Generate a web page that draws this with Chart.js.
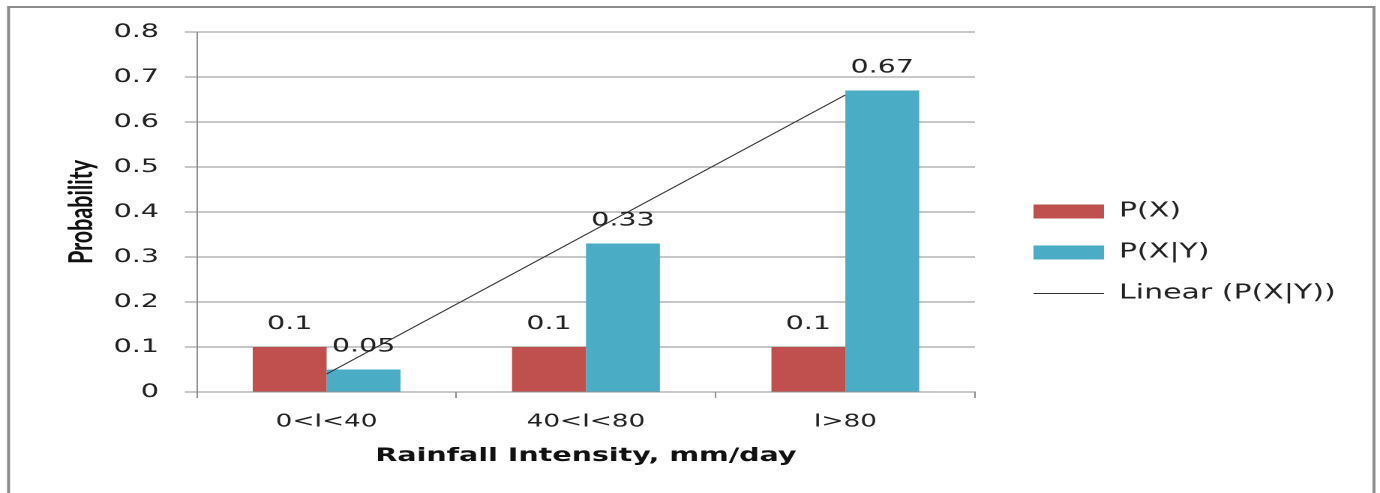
<!DOCTYPE html>
<html><head><meta charset="utf-8">
<script src="https://cdn.jsdelivr.net/npm/chart.js@4.4.1/dist/chart.umd.min.js"></script>
<style>
html,body{margin:0;padding:0;background:#fff;overflow:hidden;width:1380px;height:493px}
#wrap{position:absolute;left:-750px;top:0;width:1420px;height:493px;transform:scaleX(1.5);transform-origin:0 0}
</style></head><body>
<div id="wrap"><canvas id="c"></canvas></div>
<script>
const categories = ['0<I<40', '40<I<80', 'I>80'];
const pX = [0.1, 0.1, 0.1];
const pXgivenY = [0.05, 0.33, 0.67];
const trendPXY = [0.04, 0.35, 0.66];
const yTickLabels = ['0', '0.1', '0.2', '0.3', '0.4', '0.5', '0.6', '0.7', '0.8'];
const seriesNames = ['P(X)', 'P(X|Y)', 'Linear (P(X|Y))'];
const xTitle = 'Rainfall Intensity, mm/day';
const yTitle = 'Probability';

const GRID = '#8f8f8f';
const TXT = '#222222';
const OFF = 500;          // hidden strip on the left of the canvas
const W = 1420;           // canvas width (css px, before horizontal stretch)
const LEG_FONT = 20, LEG_PAD = 21, LEG_BOX = 47;

// legend placement: measure the longest legend text
const mctx = document.createElement('canvas').getContext('2d');
mctx.font = LEG_FONT + 'px "DejaVu Sans"';
const maxText = Math.max(...seriesNames.map(s => mctx.measureText(s).width));
const legendW = LEG_PAD + LEG_BOX + LEG_FONT / 2 + maxText + 10;
const legendLeft = OFF + 668;
const padRight = W - legendLeft - legendW;

const framePlugin = {
  id: 'frame',
  beforeDraw(chart) {
    const ctx = chart.ctx;
    ctx.save();
    ctx.fillStyle = '#ffffff';
    ctx.fillRect(0, 0, chart.width, chart.height);
    ctx.strokeStyle = '#8c8c8c';
    ctx.lineWidth = 2;
    ctx.strokeRect(OFF + 5.7, 7, 910.3, 600);
    ctx.restore();
  }
};

const valueLabels = {
  id: 'valueLabels',
  afterDatasetsDraw(chart) {
    const ctx = chart.ctx;
    ctx.save();
    ctx.font = '19px "DejaVu Sans"';
    ctx.fillStyle = TXT;
    ctx.textAlign = 'center';
    ctx.textBaseline = 'middle';
    [0, 1].forEach(di => {
      const meta = chart.getDatasetMeta(di);
      meta.data.forEach((el, i) => {
        ctx.fillText(String(chart.data.datasets[di].data[i]), el.x, el.y - 23);
      });
    });
    ctx.restore();
  }
};

new Chart(document.getElementById('c'), {
  data: {
    labels: categories,
    datasets: [
      { type: 'bar', label: seriesNames[0], data: pX, backgroundColor: '#C0504D', borderWidth: 0,
        categoryPercentage: 0.57, barPercentage: 1.0, pointStyle: 'rect', order: 1 },
      { type: 'bar', label: seriesNames[1], data: pXgivenY, backgroundColor: '#4BACC6', borderWidth: 0,
        categoryPercentage: 0.57, barPercentage: 1.0, pointStyle: 'rect', order: 1 },
      { type: 'line', label: seriesNames[2], data: trendPXY, borderColor: '#333333', backgroundColor: '#333333',
        borderWidth: 1, pointRadius: 0, pointStyle: 'line', fill: false, tension: 0, order: 0 }
    ]
  },
  options: {
    responsive: true,
    maintainAspectRatio: false,
    animation: false,
    devicePixelRatio: 2,
    layout: { padding: { left: 0, top: 12, right: padRight, bottom: 0 } },
    plugins: {
      tooltip: { enabled: false },
      legend: {
        position: 'right',
        labels: {
          usePointStyle: true,
          pointStyleWidth: LEG_BOX,
          boxHeight: 14,
          padding: LEG_PAD,
          color: TXT,
          font: { family: '"DejaVu Sans"', size: LEG_FONT },
          sort: (a, b) => a.datasetIndex - b.datasetIndex
        }
      }
    },
    scales: {
      x: {
        type: 'category',
        offset: true,
        grid: { display: true, drawOnChartArea: false, drawTicks: true, tickLength: 6, color: GRID, offset: true },
        border: { display: true, color: GRID, width: 1 },
        ticks: { color: TXT, font: { family: '"DejaVu Sans"', size: 17.5 }, padding: 13.5, maxRotation: 0 },
        title: { display: true, text: xTitle, color: '#111', font: { family: '"DejaVu Sans"', size: 19, weight: 'bold' },
                 padding: { top: 0, bottom: 25.6 } },
        afterFit(s) { s.height = 101; }
      },
      y: {
        type: 'linear',
        min: 0, max: 0.8,
        grid: { color: GRID, drawTicks: true, tickLength: 8 },
        border: { display: true, color: GRID, width: 1 },
        ticks: { stepSize: 0.1, color: TXT, font: { family: '"DejaVu Sans"', size: 19 }, padding: 17.3,
                 callback: (v, i) => yTickLabels[i] },
        title: { display: true, text: yTitle, color: '#111',
                 font: { family: 'Lato, "Liberation Sans"', size: 21.5, weight: 'bold' },
                 padding: { top: OFF + 41.5, bottom: 0 } },
        afterFit(s) { s.width = OFF + 131.3; s.paddingTop = 32; }
      },
      gap: {
        type: 'linear', position: 'right', display: true,
        grid: { display: false }, border: { display: false }, ticks: { display: false },
        afterFit(s) { s.width = 18; }
      }
    }
  },
  plugins: [framePlugin, valueLabels]
});
</script>
</body></html>
